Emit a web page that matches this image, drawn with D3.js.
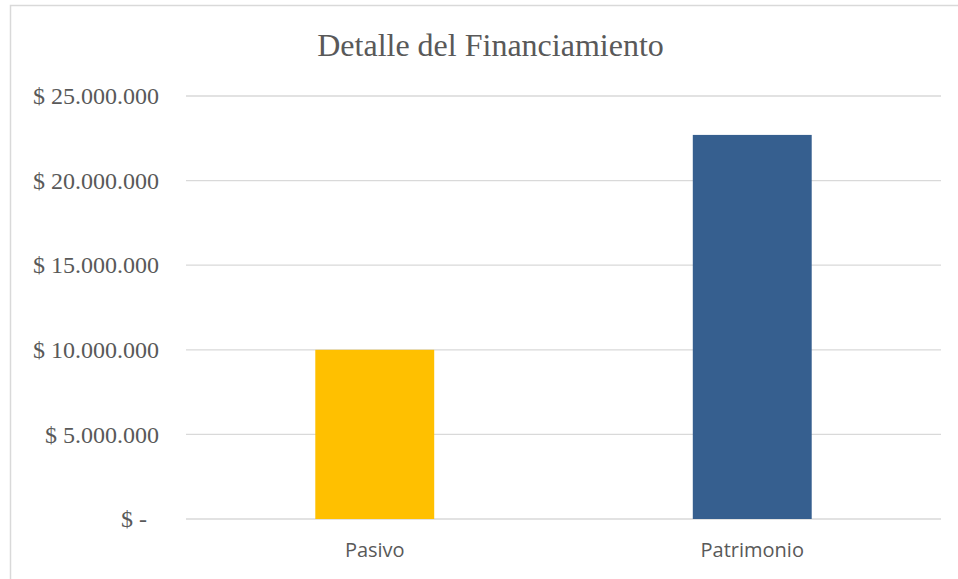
<!DOCTYPE html>
<html>
<head>
<meta charset="utf-8">
<script src="https://cdn.jsdelivr.net/npm/d3@7"></script>
<style>
  body { margin: 0; background: #fff; }
  svg { display: block; }
</style>
</head>
<body>
<svg id="chart" width="958" height="579"></svg>
<script>
// data
var categories = ["Pasivo", "Patrimonio"];
var values = [10000000, 22700000];
var barColors = ["#FFC000", "#365F8F"];
var tickValues = [0, 5000000, 10000000, 15000000, 20000000, 25000000];

var svg = d3.select("#chart");
var width = 958, height = 579;

// chart frame (runs past the right and bottom edge)
svg.append("rect")
    .attr("x", 10.5)
    .attr("y", 5.5)
    .attr("width", 1000)
    .attr("height", 1000)
    .attr("fill", "#fff")
    .attr("stroke", "#d9d9d9")
    .attr("stroke-width", 1.5);

var x = d3.scaleBand()
    .domain(categories)
    .range([186, 941])
    .paddingInner(0.685)
    .paddingOuter(0.3425);

var y = d3.scaleLinear()
    .domain([0, 25000000])
    .range([519, 96]);

var fmt = function(d) {
    if (d === 0) return "$ -\u2002";
    return "$ " + d3.format(",")(d).replace(/,/g, ".");
};

// gridlines
svg.append("g")
    .selectAll("line")
    .data(tickValues)
    .enter()
    .append("line")
    .attr("x1", 186)
    .attr("x2", 941)
    .attr("y1", function(d) { return y(d); })
    .attr("y2", function(d) { return y(d); })
    .attr("stroke", "#d9d9d9")
    .attr("stroke-width", 1.3);

// y axis labels
var yAxis = d3.axisLeft(y)
    .tickValues(tickValues)
    .tickFormat(fmt)
    .tickSize(0)
    .tickPadding(27);

var gy = svg.append("g")
    .attr("transform", "translate(186,0)")
    .call(yAxis);
gy.select(".domain").remove();
gy.selectAll("text")
    .attr("fill", "#595959")
    .style("font-family", "'Liberation Serif', 'Times New Roman', serif")
    .style("font-size", "24px")
    .style("white-space", "pre");

// bars
svg.append("g")
    .selectAll("rect")
    .data(values)
    .enter()
    .append("rect")
    .attr("x", function(d, i) { return x(categories[i]); })
    .attr("width", x.bandwidth())
    .attr("y", function(d) { return y(d); })
    .attr("height", function(d) { return y(0) - y(d); })
    .attr("fill", function(d, i) { return barColors[i]; });

// x axis labels
var xAxis = d3.axisBottom(x)
    .tickSize(0)
    .tickPadding(24);

var gx = svg.append("g")
    .attr("transform", "translate(0,519)")
    .call(xAxis);
gx.select(".domain").remove();
gx.selectAll("text")
    .attr("fill", "#595959")
    .style("font-family", "'Open Sans', 'Noto Sans', sans-serif")
    .style("font-size", "20px");

// title
svg.append("text")
    .attr("x", 490.5)
    .attr("y", 56)
    .attr("text-anchor", "middle")
    .attr("fill", "#595959")
    .style("font-family", "'Liberation Serif', 'Times New Roman', serif")
    .style("font-size", "32px")
    .text("Detalle del Financiamiento");
</script>
</body>
</html>
